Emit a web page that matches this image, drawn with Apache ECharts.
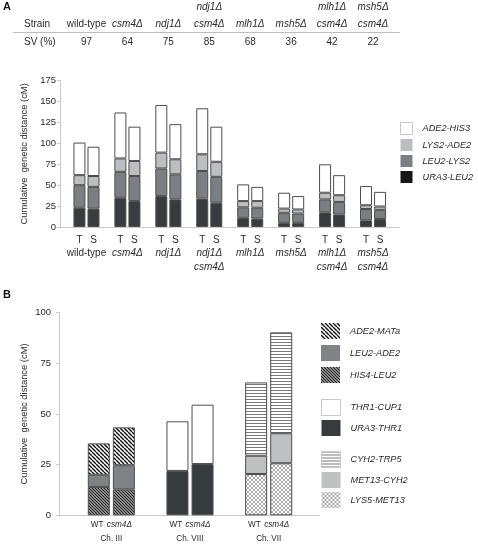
<!DOCTYPE html>
<html><head><meta charset="utf-8">
<script src="https://cdn.jsdelivr.net/npm/echarts@6/dist/echarts.min.js"></script>
<style>html,body{margin:0;padding:0;background:#fff}#c{width:478px;height:545px}</style>
</head><body><div id="c"></div>
<script>
const FONT = 'Arial, "Liberation Sans", Helvetica, sans-serif';
const TXT = '#2a2a2a';

// ---------- Panel A data ----------
const strainKeys = ['wild-type','csm4Δ','ndj1Δ','ndj1Δ csm4Δ','mlh1Δ','msh5Δ','mlh1Δ csm4Δ','msh5Δ csm4Δ'];
const strainLines = [['wild-type'],['csm4Δ'],['ndj1Δ'],['ndj1Δ','csm4Δ'],['mlh1Δ'],['msh5Δ'],['mlh1Δ','csm4Δ'],['msh5Δ','csm4Δ']];
const svValues = [97, 64, 75, 85, 68, 36, 42, 22];
const intervalsA = ['URA3-LEU2','LEU2-LYS2','LYS2-ADE2','ADE2-HIS3'];
// T = tetrad, S = spore
const ura3Leu2_T = [23, 35, 37, 34, 11, 5, 17.5, 8];
const leu2Lys2_T = [27, 31, 33, 33, 12.5, 12, 15.5, 13.5];
const lys2Ade2_T = [12, 16, 19, 20, 7.5, 5, 8, 4.5];
const ade2His3_T = [39, 55, 57, 55, 20, 19, 34, 23];
const ura3Leu2_S = [22, 31, 33, 29, 10, 5, 15, 9.5];
const leu2Lys2_S = [26, 30, 30, 31, 13, 11, 15, 11];
const lys2Ade2_S = [13, 18, 18, 18, 8, 5, 8, 4];
const ade2His3_S = [35, 41, 42, 42, 17, 16, 24, 17.5];
const yMaxA = 175, yStepA = 25;

// ---------- Panel B data ----------
const chromosomes = ['Ch. III','Ch. VIII','Ch. VII'];
const chIII_intervals = ['HIS4-LEU2','LEU2-ADE2','ADE2-MATa'];
const chIII_WT = [14, 6, 15.5];
const chIII_csm4 = [12.8, 11.9, 18.7];
const chVIII_intervals = ['URA3-THR1','THR1-CUP1'];
const chVIII_WT = [21.9, 24.5];
const chVIII_csm4 = [25.3, 29.3];
const chVII_intervals = ['LYS5-MET13','MET13-CYH2','CYH2-TRP5'];
const chVII_WT = [20.4, 9, 36.2];
const chVII_csm4 = [25.7, 14.8, 49.8];
const yMaxB = 100, yStepB = 25;

// ---------- patterns ----------
function tile(w, h, draw) {
  const c = document.createElement('canvas'); c.width = w; c.height = h;
  const ctx = c.getContext('2d'); draw(ctx); return {image: c, repeat: 'repeat'};
}
const diagStripes = tile(4, 4, ctx => {
  ctx.fillStyle = '#fff'; ctx.fillRect(0,0,4,4);
  ctx.strokeStyle = '#111'; ctx.lineWidth = 1.4;
  for (const o of [-4, 0, 4]) { ctx.beginPath(); ctx.moveTo(o, 0); ctx.lineTo(o+4, 4); ctx.stroke(); }
});
const denseHatch = tile(3, 3, ctx => {
  ctx.fillStyle = '#8a8a8a'; ctx.fillRect(0,0,3,3);
  ctx.fillStyle = '#222';
  for (let i = 0; i < 3; i++) ctx.fillRect(i, i, 1, 1);
});
const hLines = tile(3, 3, ctx => {
  ctx.fillStyle = '#fff'; ctx.fillRect(0,0,3,3);
  ctx.fillStyle = '#7a7a7a'; ctx.fillRect(0, 0, 3, 1);
});
const crossHatch = tile(4, 4, ctx => {
  ctx.fillStyle = '#fff'; ctx.fillRect(0,0,4,4);
  ctx.fillStyle = '#a6a6a6';
  for (let i = 0; i < 4; i++) { ctx.fillRect(i, i, 1, 1); ctx.fillRect(3-i, i, 1, 1); }
});

const colorsA = {'URA3-LEU2':'#383c3f','LEU2-LYS2':'#7b7e82','LYS2-ADE2':'#bcbec1','ADE2-HIS3':'#ffffff'};
const fillsB = {
  'ADE2-MATa': diagStripes, 'LEU2-ADE2': '#808386', 'HIS4-LEU2': denseHatch,
  'THR1-CUP1': '#ffffff', 'URA3-THR1': '#363b3e',
  'CYH2-TRP5': hLines, 'MET13-CYH2': '#bfc0c2', 'LYS5-MET13': crossHatch
};

// ---------- layout ----------
const gA = {left: 66, right: 84.5, top: 80.7, bottom: 318};
const gB = {left: 72, right: 170, top: 312.7, bottom: 29.7};
const BORDER = '#4d4d4d';

const series = [];
const aT = [ura3Leu2_T, leu2Lys2_T, lys2Ade2_T, ade2His3_T];
const aS = [ura3Leu2_S, leu2Lys2_S, lys2Ade2_S, ade2His3_S];
[['T', aT], ['S', aS]].forEach(([stk, arrs]) => {
  intervalsA.forEach((name, k) => {
    series.push({type: 'bar', name, xAxisIndex: 0, yAxisIndex: 0, stack: stk,
      barWidth: 12, barGap: '17%', data: arrs[k],
      itemStyle: {color: colorsA[name], borderColor: BORDER, borderWidth: 1}});
  });
});
const groupsB = [[chIII_intervals, chIII_WT, chIII_csm4], [chVIII_intervals, chVIII_WT, chVIII_csm4], [chVII_intervals, chVII_WT, chVII_csm4]];
groupsB.forEach(([names, wt, cs], c) => {
  names.forEach((name, j) => {
    [['WT', wt], ['csm4', cs]].forEach(([stk, arr]) => {
      series.push({type: 'bar', name, xAxisIndex: 1, yAxisIndex: 1, stack: stk,
        barWidth: 22, barGap: '14%',
        data: chromosomes.map((_, i) => i === c ? arr[j] : '-'),
        itemStyle: {color: fillsB[name], borderColor: BORDER, borderWidth: 1}});
    });
  });
});

const legText = {fontSize: 9.2, fontStyle: 'italic', color: TXT, fontFamily: FONT, padding: [0,0,0,5]};
const noB = {borderWidth: 0};
const lightB = {borderColor: '#c8c8c8', borderWidth: 1};
const legends = [
  {orient: 'vertical', left: 400, top: 122, itemWidth: 12, itemHeight: 12, itemGap: 4,
    data: [{name: 'ADE2-HIS3', itemStyle: lightB}, {name: 'LYS2-ADE2', itemStyle: noB},
           {name: 'LEU2-LYS2', itemStyle: noB}, {name: 'URA3-LEU2', itemStyle: {borderWidth: 0, color: '#161616'}}]},
  {orient: 'vertical', left: 321, top: 323, itemWidth: 19, itemHeight: 16, itemGap: 6,
    data: [{name: 'ADE2-MATa', itemStyle: noB}, {name: 'LEU2-ADE2', itemStyle: noB}, {name: 'HIS4-LEU2', itemStyle: noB}]},
  {orient: 'vertical', left: 321, top: 399, itemWidth: 19, itemHeight: 16, itemGap: 4,
    data: [{name: 'THR1-CUP1', itemStyle: lightB}, {name: 'URA3-THR1', itemStyle: noB}]},
  {orient: 'vertical', left: 321, top: 451, itemWidth: 19, itemHeight: 16, itemGap: 4,
    data: [{name: 'CYH2-TRP5', itemStyle: lightB}, {name: 'MET13-CYH2', itemStyle: noB}, {name: 'LYS5-MET13', itemStyle: noB}]}
].map(l => Object.assign({padding: 0, icon: 'rect', selectedMode: false, textStyle: legText}, l));

const axisLineStyle = {lineStyle: {color: '#c8c8c8', width: 1}};
const yName = 'Cumulative  genetic distance (cM)';

const option = {
  animation: false,
  textStyle: {fontFamily: FONT},
  grid: [gA, gB],
  legend: legends,
  xAxis: [
    {type: 'category', gridIndex: 0, data: strainKeys, axisLine: {show: false}, axisTick: {show: false},
      axisLabel: {interval: 0, margin: 6, color: TXT, fontFamily: FONT,
        formatter: (v, idx) => {
          const st = idx === 0 ? 'n' : 'i';
          return '{ts|T}{ts|S}\n' + strainLines[idx].map(l => '{' + st + '|' + l + '}').join('\n');
        },
        rich: {
          ts: {width: 14, align: 'center', fontSize: 10, lineHeight: 13.5, color: TXT, fontFamily: FONT},
          n: {fontSize: 10, lineHeight: 13.5, color: TXT, fontFamily: FONT},
          i: {fontSize: 10, lineHeight: 13.5, fontStyle: 'italic', color: TXT, fontFamily: FONT}
        }}},
    {type: 'category', gridIndex: 1, data: chromosomes, axisLine: {show: false}, axisTick: {show: false},
      axisLabel: {interval: 0, margin: 3, color: TXT, fontFamily: FONT,
        formatter: v => '{w|WT} {i|csm4Δ}\n{w|' + v + '}',
        rich: {
          w: {fontSize: 8.2, lineHeight: 13.5, color: TXT, fontFamily: FONT},
          i: {fontSize: 8.2, lineHeight: 13.5, fontStyle: 'italic', color: TXT, fontFamily: FONT}
        }}}
  ],
  yAxis: [
    {type: 'value', gridIndex: 0, min: 0, max: yMaxA, interval: yStepA, offset: 6,
      axisLine: Object.assign({show: true}, axisLineStyle), axisTick: Object.assign({show: true, length: 3}, axisLineStyle),
      splitLine: {show: false},
      axisLabel: {fontSize: 9.5, color: TXT, margin: 4, fontFamily: FONT},
      name: yName, nameLocation: 'middle', nameGap: 31,
      nameTextStyle: {fontSize: 9.4, color: TXT, fontFamily: FONT}},
    {type: 'value', gridIndex: 1, min: 0, max: yMaxB, interval: yStepB, offset: 13,
      axisLine: Object.assign({show: true}, axisLineStyle), axisTick: Object.assign({show: true, length: 3}, axisLineStyle),
      splitLine: {show: false},
      axisLabel: {fontSize: 9.5, color: TXT, margin: 8, fontFamily: FONT},
      name: yName, nameLocation: 'middle', nameGap: 30,
      nameTextStyle: {fontSize: 9.4, color: TXT, fontFamily: FONT}}
  ],
  series: series
};

const chart = echarts.init(document.getElementById('c'), null, {renderer: 'canvas'});
chart.setOption(option);

// ---------- graphics: table, panel letters, baselines ----------
const g = [];
const txt = (text, x, y, opts) => g.push({type: 'text', silent: true, style: Object.assign({
  text, x, y, align: 'center', verticalAlign: 'middle', fontSize: 10, fill: TXT, fontFamily: FONT}, opts || {})});
txt('A', 3, 6.5, {align: 'left', fontWeight: 'bold', fontSize: 11, fill: '#111'});
txt('B', 3, 295, {align: 'left', fontWeight: 'bold', fontSize: 11, fill: '#111'});
txt('Strain', 24, 24.5, {align: 'left'});
txt('SV (%)', 24, 42, {align: 'left'});
strainKeys.forEach((k, i) => {
  const x = chart.convertToPixel({xAxisIndex: 0}, k);
  const lines = strainLines[i];
  const st = i === 0 ? 'normal' : 'italic';
  if (lines.length === 2) {
    txt(lines[0], x, 7, {fontStyle: st});
    txt(lines[1], x, 24.5, {fontStyle: st});
  } else {
    txt(lines[0], x, 24.5, {fontStyle: st});
  }
  txt(String(svValues[i]), x, 42);
});
g.push({type: 'line', silent: true, shape: {x1: 13, y1: 32.5, x2: 400, y2: 32.5}, style: {stroke: '#bdbdbd', lineWidth: 1}});
const yA0 = chart.convertToPixel({yAxisIndex: 0}, 0);
const yB0 = chart.convertToPixel({yAxisIndex: 1}, 0);
g.push({type: 'line', silent: true, z: 0, shape: {x1: 60, y1: Math.round(yA0) + 0.5, x2: 400, y2: Math.round(yA0) + 0.5}, style: {stroke: '#c8c8c8', lineWidth: 1}});
g.push({type: 'line', silent: true, z: 0, shape: {x1: 59, y1: Math.round(yB0) + 0.5, x2: 320, y2: Math.round(yB0) + 0.5}, style: {stroke: '#c8c8c8', lineWidth: 1}});
chart.setOption({graphic: g});
</script></body></html>
